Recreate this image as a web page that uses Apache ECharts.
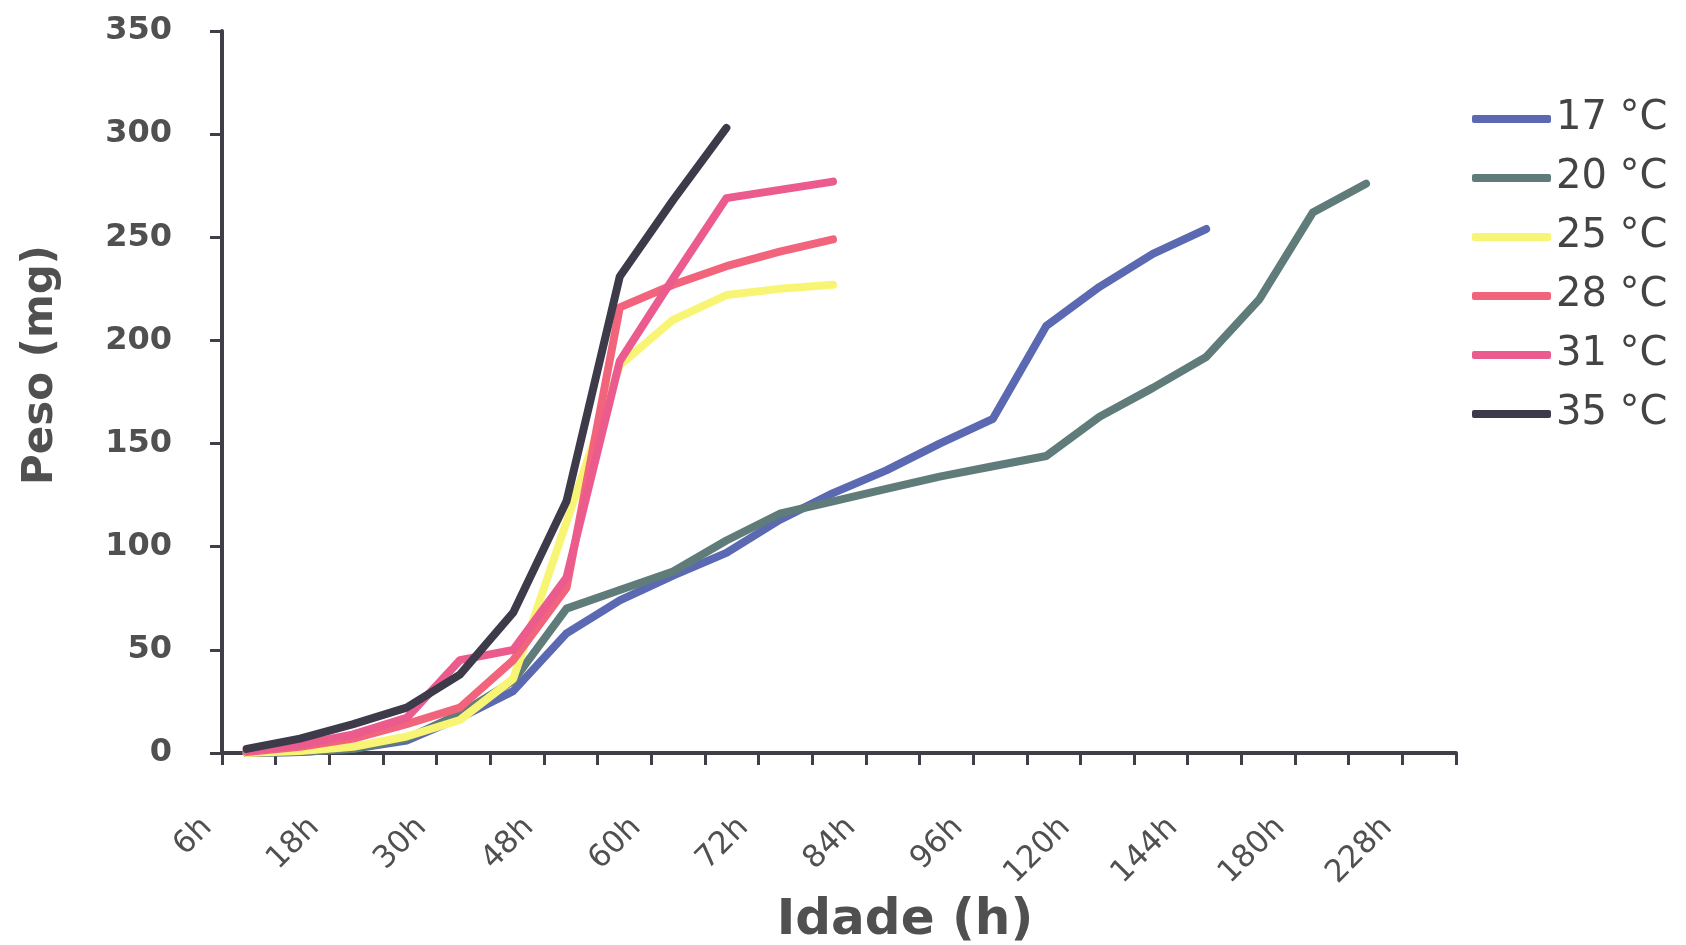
<!DOCTYPE html>
<html>
<head>
<meta charset="utf-8">
<title>Peso x Idade</title>
<script src="https://cdn.jsdelivr.net/npm/echarts@6/dist/echarts.min.js"></script>
<style>
    html, body { margin: 0; padding: 0; background: #fff; }
    #chart { width: 1686px; height: 945px; }
</style>
</head>
<body>
<div id="chart"></div>
<script>
// categorias do eixo x (so as pares aparecem no grafico)
var categories = ['6h', '12h', '18h', '24h', '30h', '36h', '48h', '54h', '60h', '66h', '72h', '78h',
    '84h', '90h', '96h', '108h', '120h', '132h', '144h', '168h', '180h', '204h', '228h'];

// peso medio (mg) por temperatura
var t17 = [0, 0.5, 2, 6, 17, 30, 58, 74, 86, 97, 113, 126, 137, 150, 162, 207, 226, 242, 254];
var t20 = [0, 0.5, 2, 7, 19, 35, 70, 79, 88, 103, 116, 122, 128, 134, 139, 144, 163, 177, 192, 220, 262, 276];
var t25 = [0, 1, 3, 8, 16, 36, 112, 188, 210, 222, 225, 227];
var t28 = [0.5, 3, 7, 14, 22, 45, 80, 216, 227, 236, 243, 249];
var t31 = [1, 4, 9, 17, 45, 50, 85, 190, 230, 269, 273, 277];
var t35 = [2, 7, 14, 22, 38, 68, 122, 231, 268, 303];

var names = ['17 °C', '20 °C', '25 °C', '28 °C', '31 °C', '35 °C'];
var colors = ['#5b69b2', '#607c7a', '#f9f574', '#f2637c', '#eb5b8e', '#3d3a4a'];
var values = [t17, t20, t25, t28, t31, t35];

var axisColor = '#3f3f48';
var textColor = '#505050';

var myChart = echarts.init(document.getElementById('chart'));

// as linhas ficam num segundo grid (eixos ocultos), um pouco mais estreito,
// como no grafico original onde os pontos nao caem bem no meio das marcas
var series = [];
for (var i = 0; i < names.length; i++) {
    series.push({
        name: names[i],
        type: 'line',
        xAxisIndex: 1,
        yAxisIndex: 1,
        data: values[i],
        symbol: 'none',
        smooth: false,
        color: colors[i],
        lineStyle: {
            width: 8,
            color: colors[i],
            cap: 'round',
            join: 'round'
        }
    });
}

option = {
    backgroundColor: '#ffffff',
    animation: false,
    grid: [
        { left: 222, right: 230, top: 31, bottom: 192, outerBoundsMode: 'none' },
        { left: 220, right: 240, top: 31, bottom: 192, outerBoundsMode: 'none' }
    ],
    legend: {
        data: names,
        orient: 'vertical',
        left: 1467,
        top: 93,
        itemWidth: 79,
        itemHeight: 8,
        itemGap: 17,
        icon: 'roundRect',
        textStyle: {
            fontFamily: 'DejaVu Sans',
            fontSize: 40,
            lineHeight: 42,
            color: '#444'
        }
    },
    xAxis: [
        {
            type: 'category',
            gridIndex: 0,
            data: categories,
            boundaryGap: true,
            name: 'Idade (h)',
            nameLocation: 'middle',
            nameGap: 116,
            nameTextStyle: {
                fontFamily: 'DejaVu Sans',
                fontWeight: 'bold',
                fontSize: 50,
                color: textColor,
                padding: [0, 0, 0, 132]
            },
            axisLine: {
                lineStyle: { color: axisColor, width: 4 }
            },
            axisTick: {
                show: true,
                interval: 0,
                length: 12,
                lineStyle: { color: axisColor, width: 3 }
            },
            axisLabel: {
                interval: 1,
                rotate: 45,
                margin: 28,
                padding: [0, 59, 70, 0],
                fontFamily: 'DejaVu Sans',
                fontSize: 31,
                color: textColor
            },
            splitLine: { show: false }
        },
        {
            type: 'category',
            gridIndex: 1,
            data: categories,
            boundaryGap: true,
            show: false
        }
    ],
    yAxis: [
        {
            type: 'value',
            gridIndex: 0,
            min: 0,
            max: 350,
            interval: 50,
            name: 'Peso (mg)',
            nameLocation: 'middle',
            nameGap: 160,
            nameRotate: 90,
            nameTextStyle: {
                fontFamily: 'DejaVu Sans',
                fontWeight: 'bold',
                fontSize: 42,
                color: textColor,
                padding: [0, 0, 0, 54]
            },
            axisLine: {
                show: true,
                lineStyle: { color: axisColor, width: 4 }
            },
            axisTick: {
                show: true,
                length: 12,
                lineStyle: { color: axisColor, width: 3 }
            },
            axisLabel: {
                margin: 50,
                fontFamily: 'DejaVu Sans',
                fontWeight: 'bold',
                fontSize: 32,
                color: textColor
            },
            splitLine: { show: false }
        },
        {
            type: 'value',
            gridIndex: 1,
            min: 0,
            max: 350,
            show: false,
            splitLine: { show: false }
        }
    ],
    series: series
};

myChart.setOption(option);
</script>
</body>
</html>
